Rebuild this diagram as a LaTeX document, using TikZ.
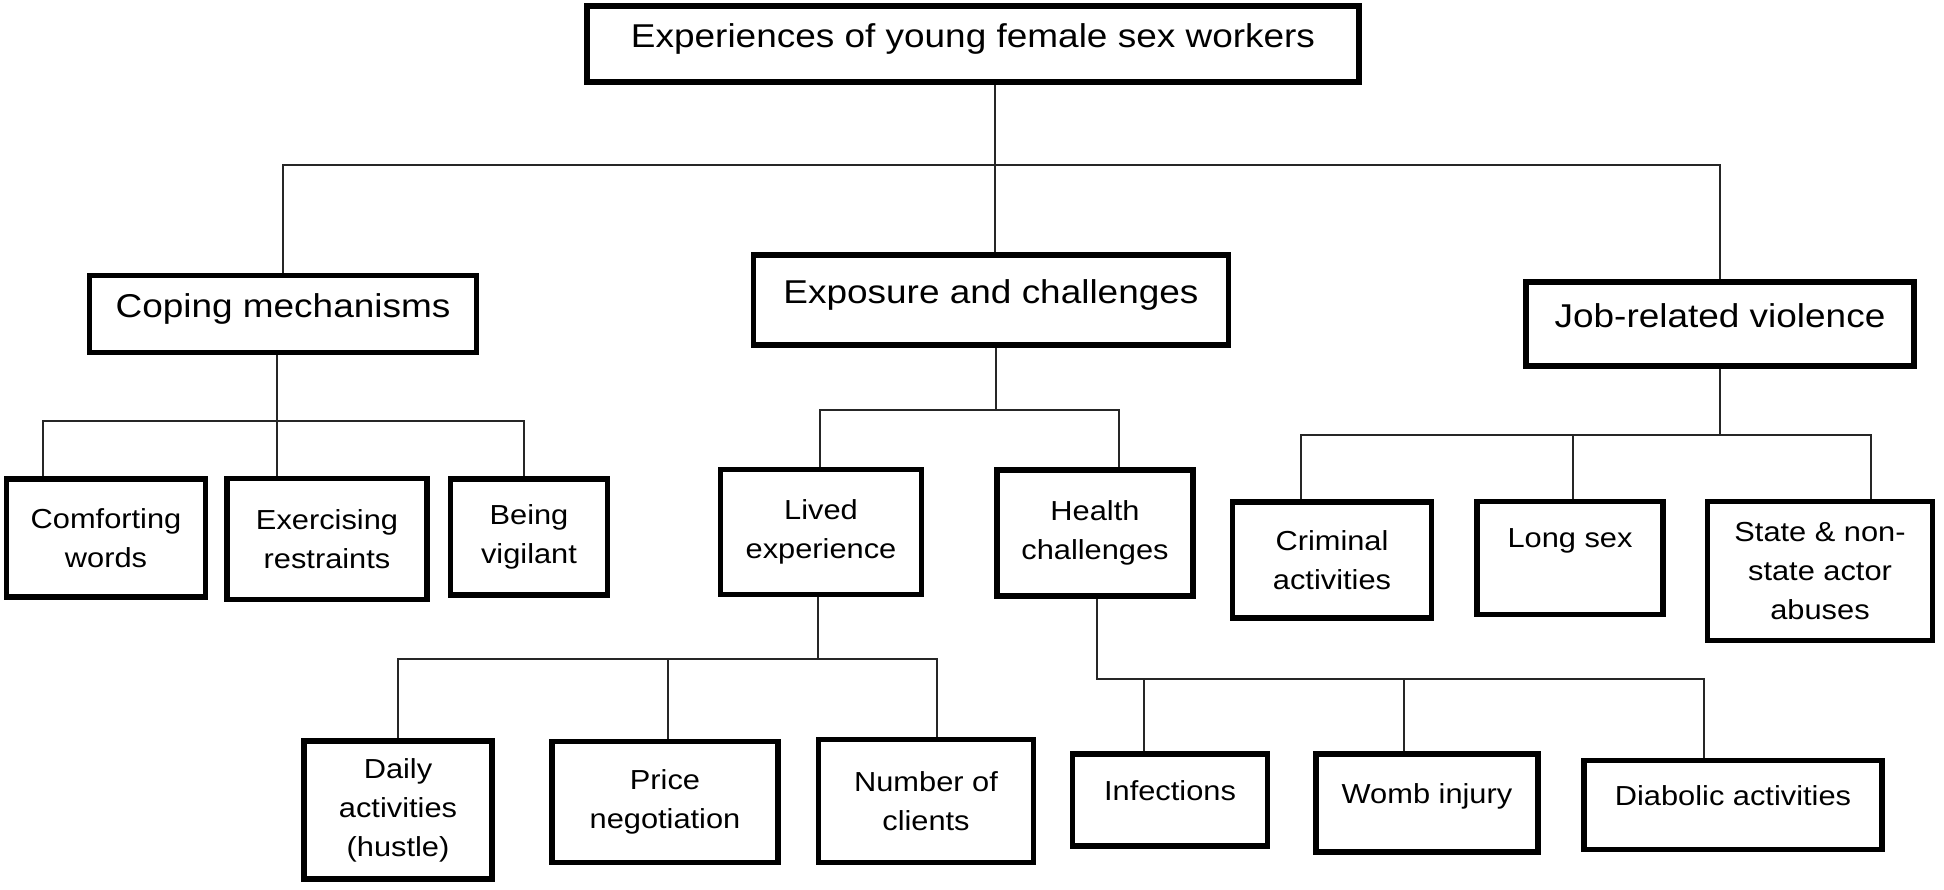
\documentclass[tikz,border=0pt]{standalone}
\usepackage{fontspec}
\setmainfont[FakeStretch=1.12]{Liberation Sans}

\begin{document}
\begin{tikzpicture}[
  x=1pt, y=-1pt,
  head/.style={draw, line width=5.5pt, align=center, inner sep=0pt, text height=24pt, text depth=18pt, font=\fontsize{33}{40}\selectfont},
  leaf/.style={draw, line width=5.5pt, align=center, inner sep=0pt, font=\fontsize{27.5}{39}\selectfont},
  single/.style={text height=20pt, text depth=20pt},
  link/.style={line width=1.4pt, black!85}
]
\useasboundingbox (0,0) rectangle (1944,889);

% top level
\node[head, minimum width=772pt, minimum height=76pt] (root) at (973,44) {Experiences of young female sex workers};
\node[head, minimum width=387pt, minimum height=77pt] (coping) at (283,314) {Coping mechanisms};
\node[head, minimum width=475pt, minimum height=90pt] (expo) at (991,300) {Exposure and challenges};
\node[head, minimum width=388pt, minimum height=84pt] (job) at (1720,324) {Job-related violence};

% second level
\node[leaf, minimum width=199pt, minimum height=118pt] (comf) at (106,538) {Comforting\\words};
\node[leaf, minimum width=200pt, minimum height=121pt] (exer) at (327,539) {Exercising\\restraints};
\node[leaf, minimum width=157pt, minimum height=116pt] (vig) at (529,537) {Being\\vigilant};
\node[leaf, minimum width=201pt, minimum height=125pt] (lived) at (821,532) {Lived\\experience};
\node[leaf, minimum width=196pt, minimum height=126pt] (health) at (1095,533) {Health\\challenges};
\node[leaf, minimum width=199pt, minimum height=116pt] (crim) at (1332,560) {Criminal\\activities};
\node[leaf, minimum width=186pt, minimum height=113pt] (long) at (1570,558) {Long sex\\~};
\node[leaf, minimum width=225pt, minimum height=139pt] (state) at (1820,571) {State \& non-\\state actor\\abuses};

% third level
\node[leaf, minimum width=188pt, minimum height=138pt] (daily) at (398,810) {Daily\\activities\\(hustle)};
\node[leaf, minimum width=226pt, minimum height=121pt] (price) at (665,802) {Price\\negotiation};
\node[leaf, minimum width=215pt, minimum height=123pt] (numb) at (926,801) {Number of\\clients};
\node[leaf, single, minimum width=195pt, minimum height=92pt] (infe) at (1170,800) {Infections};
\node[leaf, single, minimum width=222pt, minimum height=98pt] (womb) at (1427,803) {Womb injury};
\node[leaf, single, minimum width=298pt, minimum height=89pt] (diab) at (1733,805) {Diabolic activities};

% bar points
\coordinate (bar1) at (995,165);
\coordinate (cb1) at (43,421);
\coordinate (cb2) at (277,421);
\coordinate (cb3) at (524,421);
\coordinate (eb0) at (996,410);
\coordinate (eb1) at (820,410);
\coordinate (eb2) at (1119,410);
\coordinate (lb0) at (818,659);
\coordinate (lb1) at (398,659);
\coordinate (lb2) at (668,659);
\coordinate (lb3) at (937,659);
\coordinate (hb0) at (1097,679);
\coordinate (hb1) at (1144,679);
\coordinate (hb2) at (1404,679);
\coordinate (hb3) at (1704,679);
\coordinate (jb1) at (1301,435);
\coordinate (jb2) at (1573,435);
\coordinate (jb3) at (1871,435);

\draw[link] (root.south -| bar1) -- (bar1 |- expo.north);
\draw[link] (coping.north) |- (bar1) -| (job.north);

\draw[link] (coping.south -| cb2) -- (cb2);
\draw[link] (cb1 |- comf.north) -- (cb1) -- (cb3) -- (cb3 |- vig.north);
\draw[link] (cb2) -- (cb2 |- exer.north);

\draw[link] (expo.south -| eb0) -- (eb0);
\draw[link] (eb1 |- lived.north) -- (eb1) -- (eb2) -- (eb2 |- health.north);

\draw[link] (lived.south -| lb0) -- (lb0);
\draw[link] (lb1 |- daily.north) -- (lb1) -- (lb3) -- (lb3 |- numb.north);
\draw[link] (lb2) -- (lb2 |- price.north);

\draw[link] (health.south -| hb0) -- (hb0) -- (hb3) -- (hb3 |- diab.north);
\draw[link] (hb1) -- (hb1 |- infe.north);
\draw[link] (hb2) -- (hb2 |- womb.north);

\draw[link] (job.south) -- (job.south |- jb1);
\draw[link] (jb1 |- crim.north) -- (jb1) -- (jb3) -- (jb3 |- state.north);
\draw[link] (jb2) -- (jb2 |- long.north);
\end{tikzpicture}
\end{document}
